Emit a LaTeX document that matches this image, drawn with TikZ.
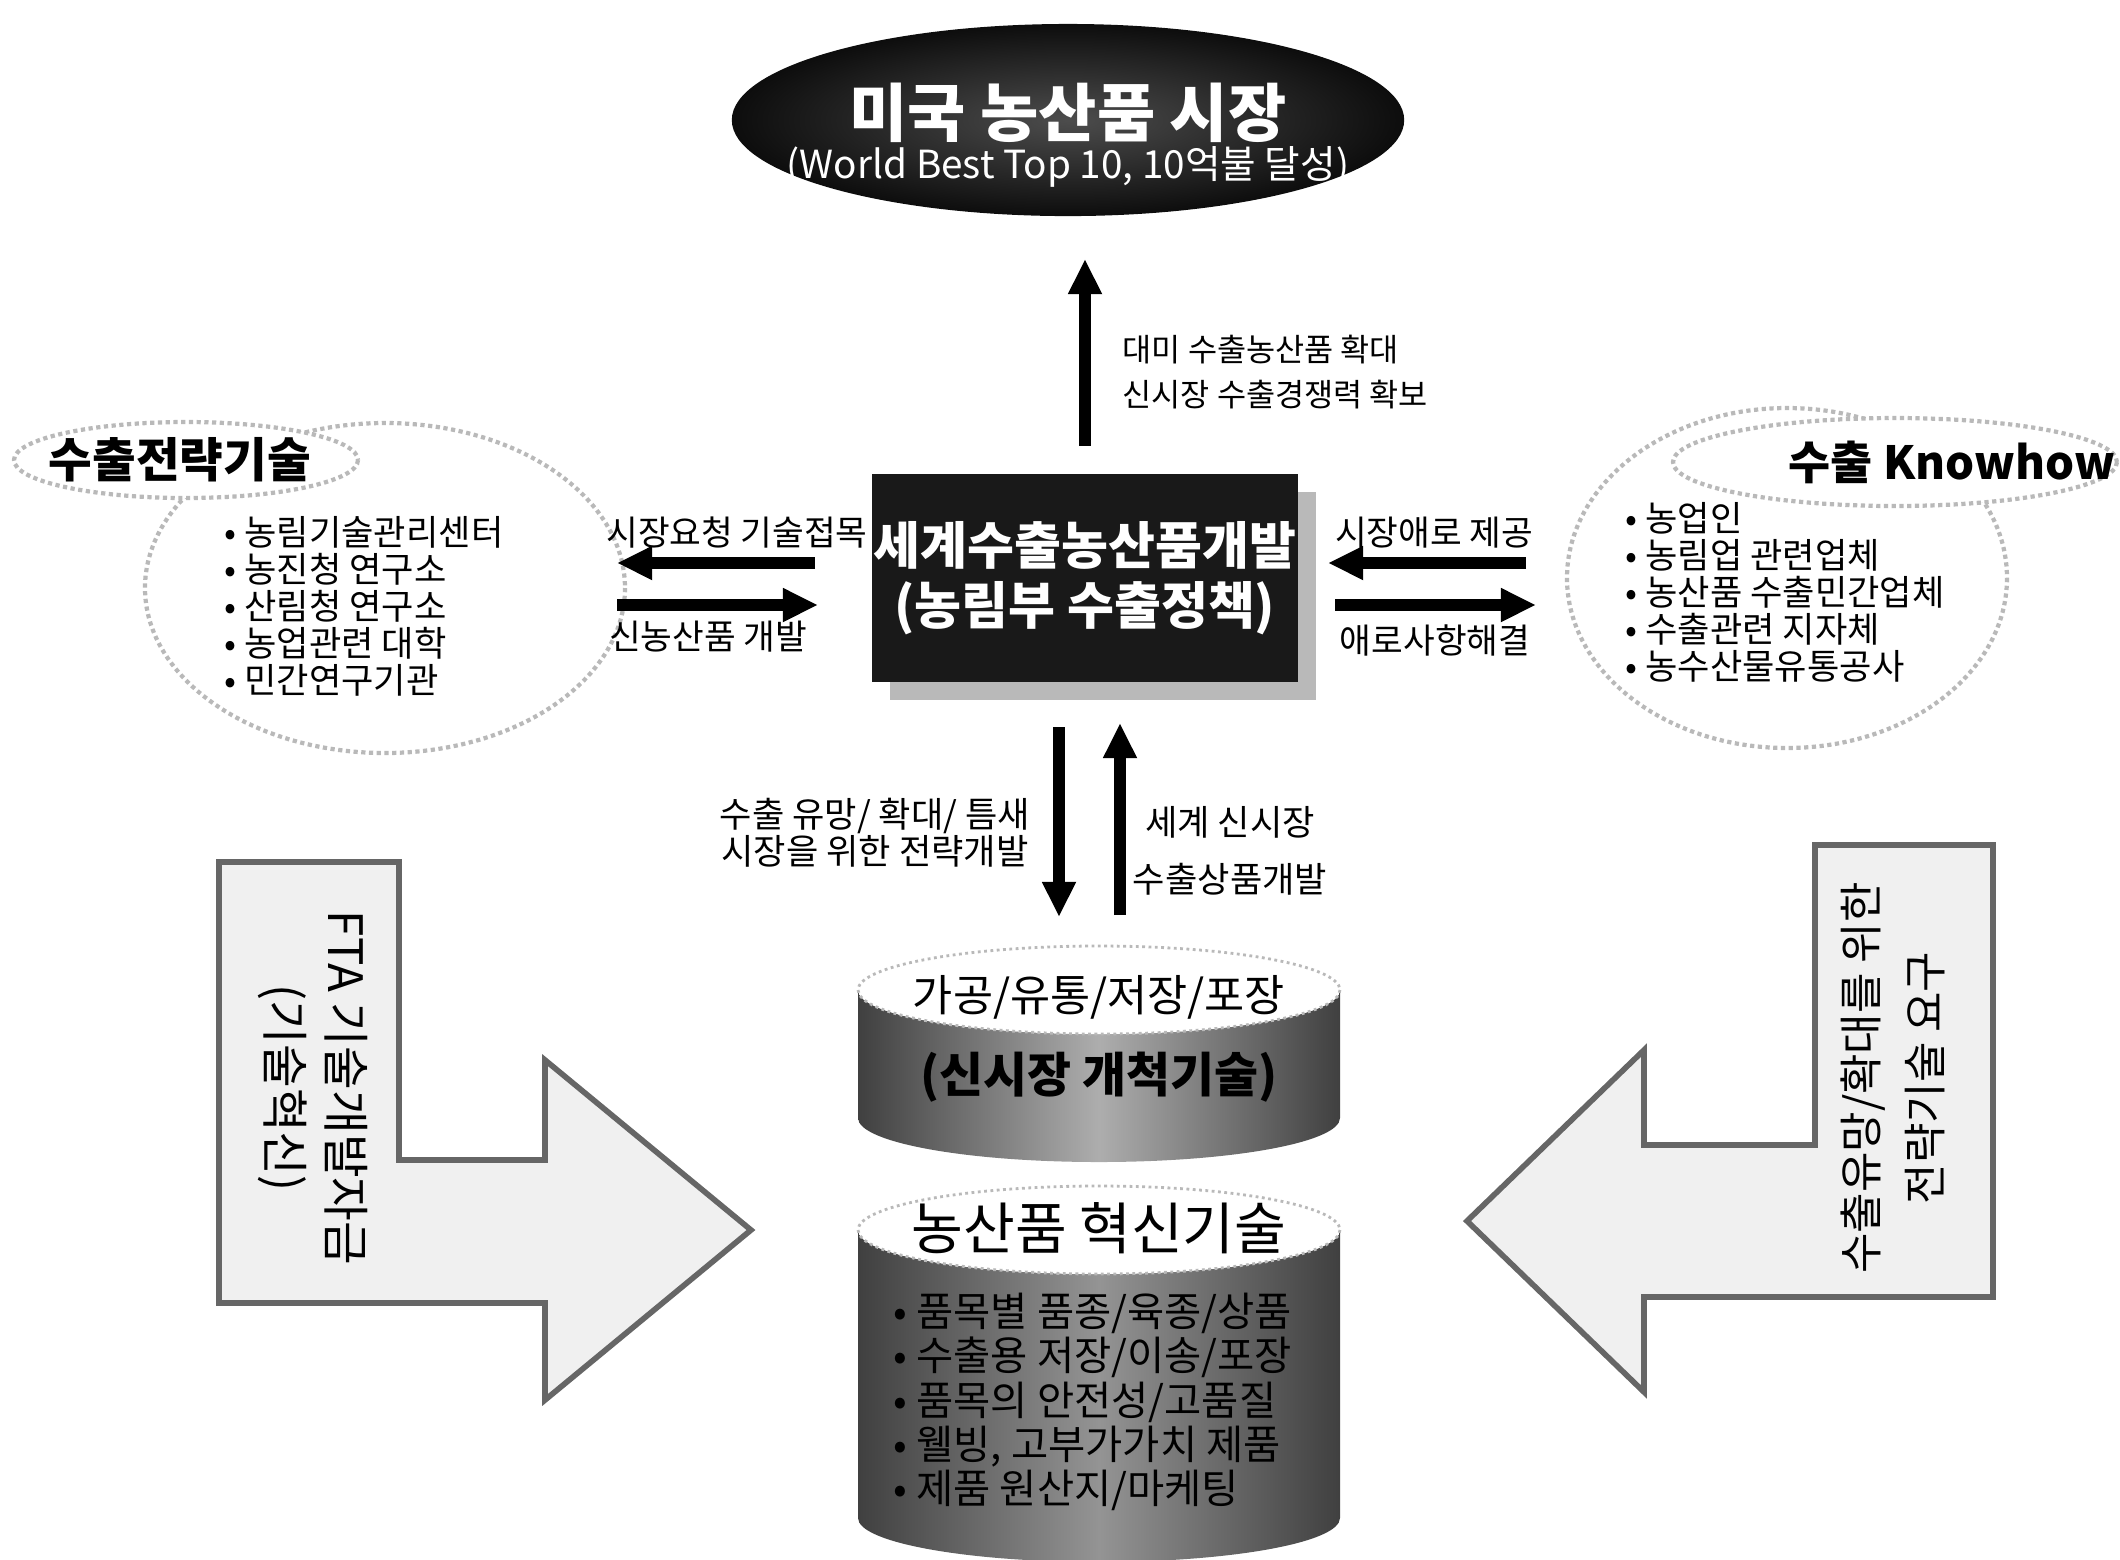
\documentclass[tikz,border=0pt]{standalone}
\usepackage{fontspec}
\setmainfont{Noto Sans CJK KR}
\usetikzlibrary{arrows.meta,shapes.geometric,shadows}
\newcommand{\fsz}[2]{\fontsize{#1}{#2}\selectfont}
\tikzset{
  fatarrow/.style={line width=3.2pt,-{Triangle[length=10pt,width=9pt]}},
  cloudline/.style={draw=gray!55,line width=1.2pt,densely dotted,fill=white},
  bendarrow/.style={draw=black!60,line width=1.6pt,fill=gray!12,line join=miter},
  lbl/.style={inner sep=0pt,font=\fsz{9.8}{11}},
  listtext/.style={inner sep=0pt,align=left,font=\fsz{10}{10.5}},
  cylbody/.style={left color=black!75,right color=black!75,middle color=black!32},
  cyltop/.style={fill=white,draw=gray!55,densely dotted,line width=0.8pt}
}
\begin{document}
\begin{tikzpicture}[x=0.01cm,y=-0.01cm]
\useasboundingbox (0,0) rectangle (2120,1559);

\draw[cloudline] (385,588) ellipse [x radius=240,y radius=165];
\draw[cloudline] (186,460) ellipse [x radius=172,y radius=38];
\node[inner sep=0pt,font=\bfseries\fsz{13.5}{15}] (strat) at (180,460) {수출전략기술};
\node[listtext,anchor=west] (stratlist) at (224,606) {• 농림기술관리센터\\• 농진청 연구소\\• 산림청 연구소\\• 농업관련 대학\\• 민간연구기관};

\draw[cloudline] (1787,578) ellipse [x radius=220,y radius=170];
\draw[cloudline] (1895,462) ellipse [x radius=222,y radius=44];
\node[inner sep=0pt,font=\bfseries\fsz{13}{15}] (know) at (1952,462) {수출 Knowhow};
\node[listtext,anchor=west] (knowlist) at (1625,592) {• 농업인\\• 농림업 관련업체\\• 농산품 수출민간업체\\• 수출관련 지자체\\• 농수산물유통공사};

\node[ellipse,minimum width=6.72cm,minimum height=1.92cm,inner color=black!70,outer color=black!95] (market) at (1068,120) {};
\node[inner sep=0pt,text=white,font=\bfseries\fsz{18}{20}] (mtitle) at (1068,113) {미국 농산품 시장};
\node[inner sep=0pt,text=white,font=\fsz{11}{12}] (msub) at (1068,167) {(World Best Top 10, 10억불 달성)};

\node[fill=black!90,inner sep=0pt,minimum width=4.25cm,minimum height=2.07cm,
  drop shadow={shadow xshift=0.18cm,shadow yshift=-0.18cm,fill=gray!55,opacity=1},
  text=white,align=center,font=\bfseries\fsz{14.5}{17}] (policy) at (1085,578) {세계수출농산품개발\\(농림부 수출정책)};

\draw[fatarrow,shorten <=8pt,shorten >=12pt] (policy.north) -- (policy.north |- market.south);
\node[inner sep=0pt,anchor=west,align=left,font=\fsz{9}{13}] (uslbl) at (1122,372) {대미 수출농산품 확대\\신시장 수출경쟁력 확보};

\coordinate (lout) at (815,563);
\coordinate (lend) at (617,563);
\coordinate (lin) at (617,605);
\coordinate (linend) at (818,605);
\draw[fatarrow] (lout) -- (lend);
\draw[fatarrow] (lin) -- (linend);
\node[lbl] (reqlbl) at (737,533) {시장요청 기술접목};
\node[lbl] (newlbl) at (708,637) {신농산품 개발};

\coordinate (rin) at (1526,563);
\coordinate (rinend) at (1328,563);
\coordinate (rout) at (1335,605);
\coordinate (routend) at (1536,605);
\draw[fatarrow] (rin) -- (rinend);
\draw[fatarrow] (rout) -- (routend);
\node[lbl] (offlbl) at (1434,533) {시장애로 제공};
\node[lbl] (sollbl) at (1435,640) {애로사항해결};

\coordinate (dtop) at (1059,727);
\coordinate (dbot) at (1059,917);
\coordinate (ubot) at (1120,915);
\coordinate (utop) at (1120,723);
\draw[fatarrow] (dtop) -- (dbot);
\draw[fatarrow] (ubot) -- (utop);
\node[lbl,align=center,font=\fsz{10}{10.5}] (dnlbl) at (875,833) {수출 유망/ 확대/ 틈새\\시장을 위한 전략개발};
\node[lbl,align=center,font=\fsz{10}{16.2}] (uplbl) at (1230,851) {세계 신시장\\수출상품개발};

\path[cylbody] (858,990) -- (858,1118) arc[start angle=180,end angle=0,x radius=241,y radius=44] -- (1340,990) arc[start angle=0,end angle=180,x radius=241,y radius=44] -- cycle;
\draw[cyltop] (1099,990) ellipse [x radius=241,y radius=44];
\node[inner sep=0pt,font=\fsz{12.4}{14}] (pack) at (1099,997) {가공/유통/저장/포장};
\node[inner sep=0pt,font=\bfseries\fsz{13.6}{15}] (pioneer) at (1099,1077) {(신시장 개척기술)};

\path[cylbody,middle color=black!42] (858,1230) -- (858,1518) arc[start angle=180,end angle=0,x radius=241,y radius=44] -- (1340,1230) arc[start angle=0,end angle=180,x radius=241,y radius=44] -- cycle;
\draw[cyltop] (1099,1230) ellipse [x radius=241,y radius=44];
\node[inner sep=0pt,font=\fsz{16}{18}] (innov) at (1099,1228) {농산품 혁신기술};
\node[listtext,font=\fsz{11.5}{11}, anchor=west] (innovlist) at (893,1402) {• 품목별 품종/육종/상품\\• 수출용 저장/이송/포장\\• 품목의 안전성/고품질\\• 웰빙, 고부가가치 제품\\• 제품 원산지/마케팅};

\draw[bendarrow] (219,862) -- (399,862) -- (399,1160) -- (545,1160) -- (545,1060) -- (751,1230) -- (545,1400) -- (545,1303) -- (219,1303) -- cycle;
\node[rotate=-90,inner sep=0pt,align=center,font=\fsz{13.5}{17.5}] (fta) at (313,1088) {FTA 기술개발자금\\(기술혁신)};

\draw[bendarrow] (1993,845) -- (1815,845) -- (1815,1145) -- (1644,1145) -- (1644,1050) -- (1467,1221) -- (1644,1392) -- (1644,1297) -- (1993,1297) -- cycle;
\node[rotate=90,inner sep=0pt,align=center,font=\fsz{12.5}{18}] (demand) at (1893,1078) {수출유망/확대를 위한\\전략기술 요구};
\end{tikzpicture}
\end{document}
